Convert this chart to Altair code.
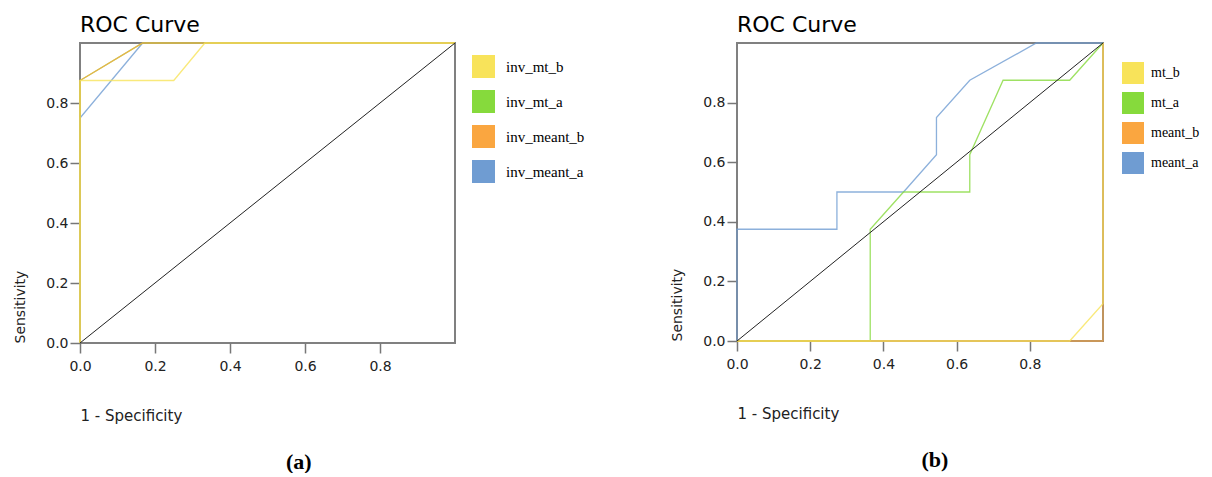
import altair as alt
import pandas as pd

# ---------------- data ----------------
# panel (a)
a_names = ["inv_mt_b", "inv_mt_a", "inv_meant_b", "inv_meant_a"]
a_mt_b_fpr = [0.0, 0.0, 0.25, 0.333, 1.0]
a_mt_b_tpr = [0.0, 0.875, 0.875, 1.0, 1.0]
a_mt_a_fpr = [0.0, 0.0, 0.167, 1.0]
a_mt_a_tpr = [0.0, 0.875, 1.0, 1.0]
a_meant_b_fpr = [0.0, 0.0, 0.167, 1.0]
a_meant_b_tpr = [0.0, 0.875, 1.0, 1.0]
a_meant_a_fpr = [0.0, 0.0, 0.167, 1.0]
a_meant_a_tpr = [0.0, 0.75, 1.0, 1.0]

# panel (b)
b_names = ["mt_b", "mt_a", "meant_b", "meant_a"]
b_mt_b_fpr = [0.0, 0.909, 1.0, 1.0]
b_mt_b_tpr = [0.0, 0.0, 0.125, 1.0]
b_mt_a_fpr = [0.0, 0.364, 0.364, 0.455, 0.636, 0.636, 0.727, 0.909, 1.0]
b_mt_a_tpr = [0.0, 0.0, 0.375, 0.5, 0.5, 0.625, 0.875, 0.875, 1.0]
b_meant_b_fpr = [0.0, 1.0, 1.0]
b_meant_b_tpr = [0.0, 0.0, 1.0]
b_meant_a_fpr = [0.0, 0.0, 0.273, 0.273, 0.455, 0.545, 0.545, 0.636, 0.818, 1.0]
b_meant_a_tpr = [0.0, 0.375, 0.375, 0.5, 0.5, 0.625, 0.75, 0.875, 1.0, 1.0]

ref_fpr = [0.0, 1.0]
ref_tpr = [0.0, 1.0]

tick_values = [0.0, 0.2, 0.4, 0.6, 0.8]
series_colors = ["#F8E35A", "#86DA3C", "#FAA640", "#6F9CD2"]

FONT = "DejaVu Sans"
SERIF = "Liberation Serif"


def make_df(names, fprs, tprs, draw_order):
    rows = []
    for name in draw_order:
        i = names.index(name)
        for k, (x, y) in enumerate(zip(fprs[i], tprs[i])):
            rows.append({"series": name, "fpr": x, "tpr": y, "idx": k})
    return pd.DataFrame(rows)


def panel(names, fprs, tprs, draw_order, width, height, leg_x, leg_y,
          sym, row_pad, lab_off, lab_size, caption):
    df = make_df(names, fprs, tprs, draw_order)
    ref = pd.DataFrame({"fpr": ref_fpr, "tpr": ref_tpr})
    leg = pd.DataFrame({"series": names, "fpr": [0.0] * len(names),
                        "tpr": [0.0] * len(names)})

    sc = alt.Scale(domain=[0, 1], nice=False, zero=False)
    xaxis = alt.Axis(values=tick_values, format=".1f", tickSize=10,
                     tickColor="#777777", tickWidth=1.5, domain=False,
                     grid=False, labelFont=FONT, labelFontSize=14,
                     labelColor="#222222", labelPadding=6, labelFlush=False,
                     title="1 - Specificity", titleFont=FONT,
                     titleFontSize=15, titleFontWeight="normal",
                     titleColor="#222222", titleAnchor="start",
                     titlePadding=35)
    yaxis = alt.Axis(values=tick_values, format=".1f", tickSize=10,
                     tickColor="#777777", tickWidth=1.5, domain=False,
                     grid=False, labelFont=FONT, labelFontSize=14,
                     labelColor="#222222", labelPadding=2, labelFlush=False,
                     title="Sensitivity", titleFont=FONT, titleFontSize=14,
                     titleFontWeight="normal", titleColor="#222222",
                     titleAnchor="start", titlePadding=18)
    X = alt.X("fpr:Q", scale=sc, axis=xaxis)
    Y = alt.Y("tpr:Q", scale=sc, axis=yaxis)

    # line colours: same mapping, domain listed in reverse order
    lines = alt.Chart(df).mark_line(strokeWidth=1.3, opacity=0.8).encode(
        x=X, y=Y,
        stroke=alt.Stroke("series:N",
                          scale=alt.Scale(domain=names[::-1],
                                          range=series_colors[::-1]),
                          legend=None),
        order=alt.Order("idx:Q"),
    )
    diag = alt.Chart(ref).mark_line(color="#222222", strokeWidth=1).encode(
        x=X, y=Y
    )
    # legend only (its marks are filtered out)
    legend_layer = alt.Chart(leg).transform_filter(
        "datum.fpr > 5"
    ).mark_square(size=sym * sym, filled=True).encode(
        x=X, y=Y,
        fill=alt.Fill(
            "series:N",
            scale=alt.Scale(domain=names, range=series_colors),
            legend=alt.Legend(
                title=None, orient="none", legendX=leg_x, legendY=leg_y,
                symbolType="square", symbolSize=sym * sym, symbolOpacity=1,
                symbolStrokeWidth=0, labelFont=SERIF, labelFontSize=lab_size,
                labelColor="black", rowPadding=row_pad, labelOffset=lab_off,
                padding=0,
            ),
        ),
    )
    layer = alt.layer(lines, diag, legend_layer).properties(
        width=width, height=height,
        title=alt.TitleParams("ROC Curve", anchor="start", frame="group",
                              font=FONT, fontSize=22, fontWeight="normal",
                              color="black", offset=3),
    )
    return alt.vconcat(
        layer,
        title=alt.TitleParams(caption, orient="bottom", anchor="middle",
                              font=SERIF, fontSize=22, fontWeight="bold",
                              color="black", offset=28),
    )


sub_a = panel(
    a_names,
    [a_mt_b_fpr, a_mt_a_fpr, a_meant_b_fpr, a_meant_a_fpr],
    [a_mt_b_tpr, a_mt_a_tpr, a_meant_b_tpr, a_meant_a_tpr],
    ["inv_meant_a", "inv_mt_a", "inv_meant_b", "inv_mt_b"],
    375, 300, 392, 12, 23, 12, 11, 15, "(a)",
)
sub_b = panel(
    b_names,
    [b_mt_b_fpr, b_mt_a_fpr, b_meant_b_fpr, b_meant_a_fpr],
    [b_mt_b_tpr, b_mt_a_tpr, b_meant_b_tpr, b_meant_a_tpr],
    ["meant_a", "mt_a", "meant_b", "mt_b"],
    366, 298, 385, 19, 22, 8, 7, 14, "(b)",
)

chart = (
    alt.hconcat(sub_a, sub_b, spacing=84)
    .resolve_scale(stroke="independent", fill="independent")
    .resolve_legend(fill="independent")
    .configure_view(stroke="#808080", strokeWidth=2)
    .properties(padding={"left": 4, "top": 5, "right": 0, "bottom": 0},
                background="white")
)

chart.save("out.html", embed_options={"renderer": "svg", "actions": False})
